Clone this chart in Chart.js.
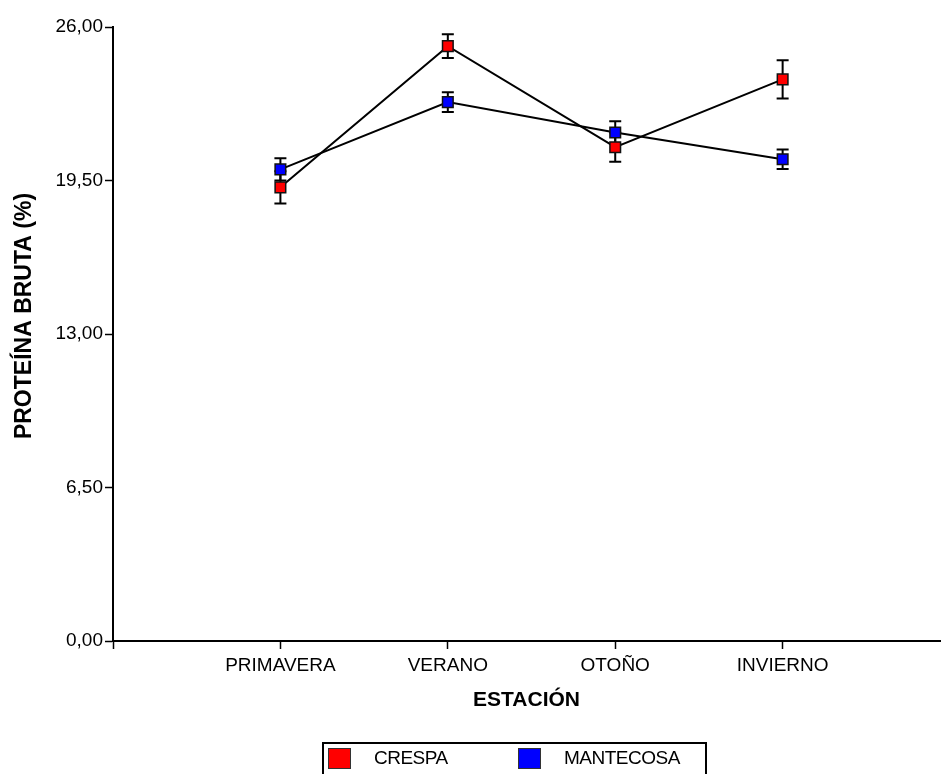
<!DOCTYPE html>
<html>
<head>
<meta charset="utf-8">
<script src="https://cdn.jsdelivr.net/npm/chart.js@4/dist/chart.umd.min.js"></script>
<style>
  body { margin: 0; background: #fff; }
  #wrap { position: relative; width: 941px; height: 774px; overflow: hidden; font-family: "Liberation Sans", Arial, sans-serif; }
  #legend { position: absolute; left: 322px; top: 742px; width: 381px; height: 60px; border: 2px solid #000; }
  .sw { position: absolute; top: 4px; width: 21px; height: 19px; border: 1px solid #333; }
  .lbl { position: absolute; top: 3px; font-size: 19px; line-height: 22px; color: #000; letter-spacing: -0.5px; }
</style>
</head>
<body>
<div id="wrap">
  <canvas id="chart" width="941" height="774"></canvas>
  <div id="legend">
    <div class="sw" style="left:4px;background:#ff0000"></div>
    <div class="lbl" style="left:50px">CRESPA</div>
    <div class="sw" style="left:194px;background:#0000ff"></div>
    <div class="lbl" style="left:240px">MANTECOSA</div>
  </div>
</div>
<script>
const categories = ['PRIMAVERA', 'VERANO', 'OTOÑO', 'INVIERNO'];
const crespa = [19.21, 25.19, 20.91, 23.78];
const crespaErr = [0.68, 0.50, 0.62, 0.81];
const mantecosa = [19.97, 22.82, 21.53, 20.40];
const mantecosaErr = [0.47, 0.42, 0.48, 0.41];
const yTicks = [0, 6.5, 13, 19.5, 26];
const xTicks = [0, 1, 2, 3, 4];
const yTitle = 'PROTEÍNA BRUTA (%)';

const FONT = '"Liberation Sans", Arial, sans-serif';

// error bars drawn under the markers, through the chart scales
const errorBars = {
    id: 'errorBars',
    beforeDatasetsDraw(chart) {
        const { ctx, scales: { x, y } } = chart;
        ctx.save();
        ctx.strokeStyle = '#000';
        ctx.lineWidth = 2;
        chart.data.datasets.forEach(ds => {
            ds.data.forEach((p, i) => {
                const e = ds.err[i];
                const px = x.getPixelForValue(p.x);
                const top = y.getPixelForValue(p.y + e);
                const bot = y.getPixelForValue(p.y - e);
                ctx.beginPath();
                ctx.moveTo(px, top); ctx.lineTo(px, bot);
                ctx.moveTo(px - 6, top); ctx.lineTo(px + 6, top);
                ctx.moveTo(px - 6, bot); ctx.lineTo(px + 6, bot);
                ctx.stroke();
            });
        });
        ctx.restore();
    }
};

// y title sits a bit above the middle of the axis in the original
const yTitlePlugin = {
    id: 'yTitle',
    afterDraw(chart) {
        const ctx = chart.ctx;
        ctx.save();
        ctx.translate(25, 316);
        ctx.rotate(-Math.PI / 2);
        ctx.font = 'bold 23px ' + FONT;
        ctx.fillStyle = '#000';
        ctx.textAlign = 'center';
        ctx.textBaseline = 'middle';
        ctx.fillText(yTitle, 0, 0);
        ctx.restore();
    }
};

const toPoints = arr => arr.map((v, i) => ({ x: i + 1, y: v }));

new Chart(document.getElementById('chart'), {
    type: 'line',
    data: {
        datasets: [
            {
                label: 'MANTECOSA',
                data: toPoints(mantecosa),
                err: mantecosaErr,
                borderColor: '#000',
                borderWidth: 2,
                pointStyle: 'rect',
                pointRadius: 7.5,
                pointBackgroundColor: '#0000ff',
                pointBorderColor: '#111',
                pointBorderWidth: 1.5,
                tension: 0
            },
            {
                label: 'CRESPA',
                data: toPoints(crespa),
                err: crespaErr,
                borderColor: '#000',
                borderWidth: 2,
                pointStyle: 'rect',
                pointRadius: 7.5,
                pointBackgroundColor: '#ff0000',
                pointBorderColor: '#111',
                pointBorderWidth: 1.5,
                tension: 0
            }
        ]
    },
    options: {
        responsive: false,
        animation: false,
        layout: { autoPadding: false, padding: { top: 27, right: 1, left: 0, bottom: 0 } },
        plugins: { legend: { display: false }, tooltip: { enabled: false } },
        scales: {
            x: {
                type: 'linear',
                min: 0,
                max: 4.94,
                afterBuildTicks: axis => { axis.ticks = xTicks.map(v => ({ value: v })); },
                afterFit: axis => { axis.height = 133; axis.paddingLeft = 0; axis.paddingRight = 0; },
                border: { color: '#000', width: 2 },
                grid: { drawOnChartArea: false, tickLength: 8, tickColor: '#000', tickWidth: 1.5 },
                ticks: {
                    color: '#000',
                    padding: 5,
                    maxRotation: 0,
                    autoSkip: false,
                    font: { family: FONT, size: 19 },
                    callback: v => categories[v - 1] || ''
                },
                title: {
                    display: true,
                    text: 'ESTACIÓN',
                    color: '#000',
                    font: { family: FONT, size: 21, weight: 'bold' },
                    padding: { top: 0, bottom: 61 }
                }
            },
            y: {
                min: 0,
                max: 26,
                afterBuildTicks: axis => { axis.ticks = yTicks.map(v => ({ value: v })); },
                afterFit: axis => { axis.width = 113; },
                border: { color: '#000', width: 2 },
                grid: { drawOnChartArea: false, tickLength: 8, tickColor: '#000', tickWidth: 1.5 },
                ticks: {
                    color: '#000',
                    padding: 2,
                    font: { family: FONT, size: 19 },
                    callback: v => v.toFixed(2).replace('.', ',')
                },
                title: { display: false }
            }
        }
    },
    plugins: [errorBars, yTitlePlugin]
});
</script>
</body>
</html>
